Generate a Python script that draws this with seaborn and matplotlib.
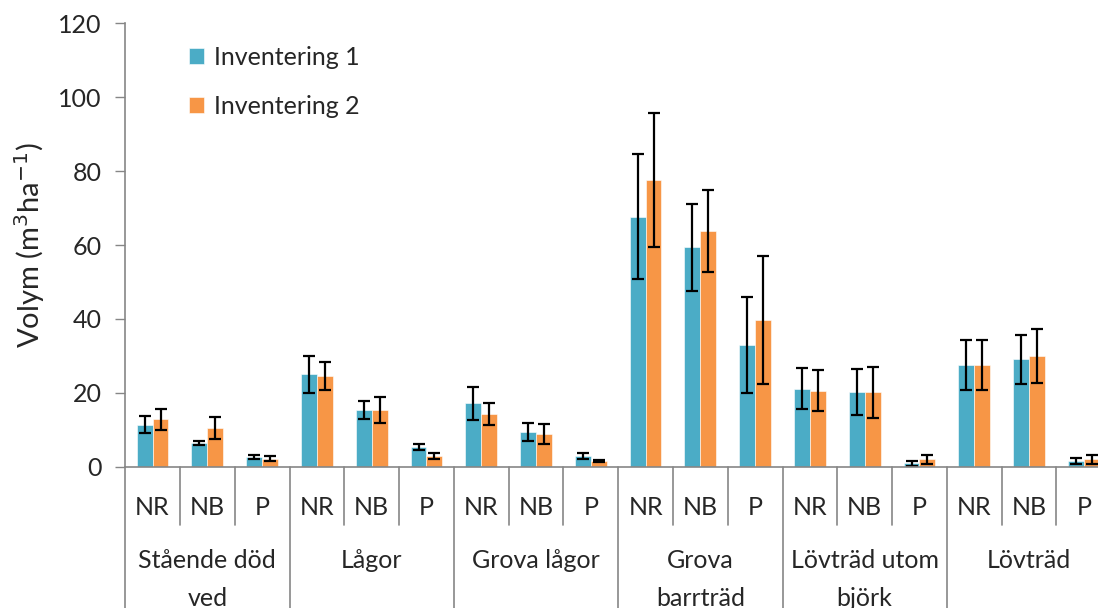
import numpy as np
import pandas as pd
import matplotlib
matplotlib.use('Agg')
import matplotlib.pyplot as plt
import matplotlib.transforms as mtransforms
import seaborn as sns

# Data
groups = ["Stående död\nved", "Lågor", "Grova lågor", "Grova\nbarrträd", "Lövträd utom\nbjörk", "Lövträd"]
subs = ["NR", "NB", "P"]
series = ["Inventering 1", "Inventering 2"]

inv1 = [11.4, 6.4, 2.6, 25.1, 15.4, 5.5, 17.2, 9.5, 3.0, 67.7, 59.4, 33.0, 21.2, 20.2, 1.0, 27.6, 29.1, 1.6]
err1 = [2.3, 0.6, 0.5, 5.0, 2.5, 0.8, 4.5, 2.5, 0.9, 17.0, 11.7, 13.0, 5.6, 6.2, 0.7, 6.7, 6.7, 0.7]
inv2 = [12.9, 10.5, 2.2, 24.6, 15.4, 3.0, 14.3, 8.9, 1.6, 77.6, 63.8, 39.7, 20.6, 20.2, 2.1, 27.6, 30.0, 2.1]
err2 = [2.9, 3.0, 0.7, 3.7, 3.5, 0.8, 3.0, 2.7, 0.2, 18.0, 11.0, 17.4, 5.6, 6.9, 1.2, 6.7, 7.2, 1.2]

colors = ["#4BACC6", "#F79646"]
FS = 18

sns.set_style("white")
plt.rcParams['font.family'] = ['Lato', 'DejaVu Sans']

keys = [f"{g}|{s}" for g in groups for s in subs]
df = pd.DataFrame({
    "key": keys * 2,
    "value": inv1 + inv2,
    "serie": [series[0]] * len(keys) + [series[1]] * len(keys),
})
errs = [err1, err2]

fig = plt.figure(figsize=(10.98, 6.08), dpi=100)
ax = fig.add_axes([0.114, 0.232, 0.898, 0.730])

sns.barplot(data=df, x="key", y="value", hue="serie", order=keys,
            palette=colors, width=0.58, errorbar=None, ax=ax,
            edgecolor="white", linewidth=0.4, saturation=1)

# error bars at the bar centres
for cont, err in zip(ax.containers, errs):
    xs = [b.get_x() + b.get_width() / 2 for b in cont]
    ys = [b.get_height() for b in cont]
    ax.errorbar(xs, ys, yerr=err, fmt='none', ecolor='black',
                elinewidth=1.6, capsize=4.5, capthick=1.6)

ax.set_ylim(0, 120)
ax.set_yticks(range(0, 121, 20))
ax.set_xlim(-0.5, len(keys) - 0.5)
ax.tick_params(axis='y', labelsize=FS, length=7, width=1, color='#868686',
               direction='out', left=True, pad=10)
ax.set_xticks(range(len(keys)))
ax.set_xticklabels(subs * len(groups), fontsize=FS)
ax.tick_params(axis='x', length=0, pad=21)
ax.set_xlabel("")
ax.set_ylabel("Volym (m$^3$ha$^{-1}$)", fontsize=21, labelpad=8)

for side in ["top", "right"]:
    ax.spines[side].set_visible(False)
for side in ["left", "bottom"]:
    ax.spines[side].set_color('#868686')
    ax.spines[side].set_linewidth(1.2)

# two-level category axis: separators and group labels
trans = mtransforms.blended_transform_factory(ax.transData, ax.transAxes)
for i in range(len(keys) + 1):
    bottom = -0.32 if i % 3 == 0 else -0.13
    ax.plot([i - 0.5, i - 0.5], [0, bottom], color='#868686', lw=1.2,
            transform=trans, clip_on=False)
for j, g in enumerate(groups):
    ax.text(j * 3 + 1, -0.186, g, transform=trans, ha='center', va='top',
            fontsize=FS, linespacing=1.75)

ax.legend(loc='upper left', bbox_to_anchor=(0.042, 1.0), frameon=False,
          fontsize=FS, handlelength=0.6, handleheight=0.6, labelspacing=1.05,
          handletextpad=0.4)

fig.savefig("out.png", dpi=100)
